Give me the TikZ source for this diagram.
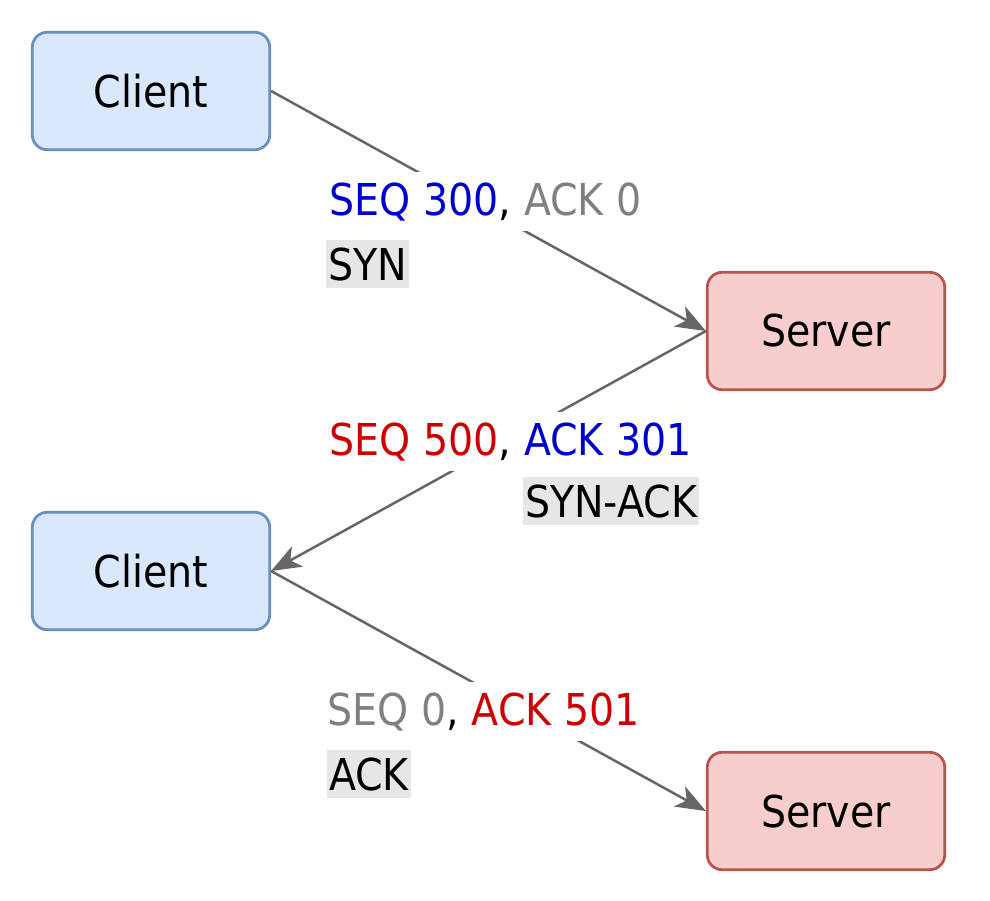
\documentclass[tikz,border=0pt]{standalone}
\usepackage{fontspec}
\setmainfont{DejaVu Sans Condensed}
\usetikzlibrary{arrows.meta}
\definecolor{cfill}{HTML}{DAE8FC}\definecolor{cline}{HTML}{6C8EBF}
\definecolor{sfill}{HTML}{F8CECC}\definecolor{sline}{HTML}{B85450}
\definecolor{seqblue}{HTML}{0000CC}\definecolor{seqred}{HTML}{CC0000}
\definecolor{seqgrey}{HTML}{808080}\definecolor{edge}{HTML}{666666}
\definecolor{flagbg}{HTML}{E6E6E6}
\newcommand{\Blu}[1]{\textcolor{seqblue}{#1}}
\newcommand{\Red}[1]{\textcolor{seqred}{#1}}
\newcommand{\Gry}[1]{\textcolor{seqgrey}{#1}}

\begin{document}
\begin{tikzpicture}[x=0.02cm,y=-0.02cm,>={Stealth[length=0.6cm,width=0.46cm,inset=0.16cm]},
  font=\fontsize{25}{30}\selectfont,
  host/.style={draw,line width=0.055cm,rounded corners=0.3cm,minimum width=4.75cm,minimum height=2.35cm},
  client/.style={host,fill=cfill,draw=cline},
  server/.style={host,fill=sfill,draw=sline},
  seqlbl/.style={fill=white,anchor=base west,inner xsep=2pt,inner ysep=6pt},
  flag/.style={fill=flagbg,anchor=base west,inner xsep=1pt,inner ysep=4pt},
  msg/.style={->,draw=edge,line width=0.05cm}]
\useasboundingbox (0,0) rectangle (990,900);
\node[client] (c1) at (151,91) {Client};
\node[server] (s1) at (826,331) {Server};
\node[client] (c2) at (151,571) {Client};
\node[server] (s2) at (826,811) {Server};
\draw[msg] (c1.east)--(s1.west);
\draw[msg] (s1.west)--(c2.east);
\draw[msg] (c2.east)--(s2.west);
\node[seqlbl] (l1) at (326,215) {\Blu{SEQ 300}, \Gry{ACK 0}};
\node[flag] (f1) at (326,280) {SYN};
\node[seqlbl] (l2) at (326,455) {\Red{SEQ 500}, \Blu{ACK 301}};
\node[flag] (f2) at (523,517) {SYN-ACK};
\node[seqlbl] (l3) at (324,725) {\Gry{SEQ 0}, \Red{ACK 501}};
\node[flag] (f3) at (327,790) {ACK};
\end{tikzpicture}
\end{document}
